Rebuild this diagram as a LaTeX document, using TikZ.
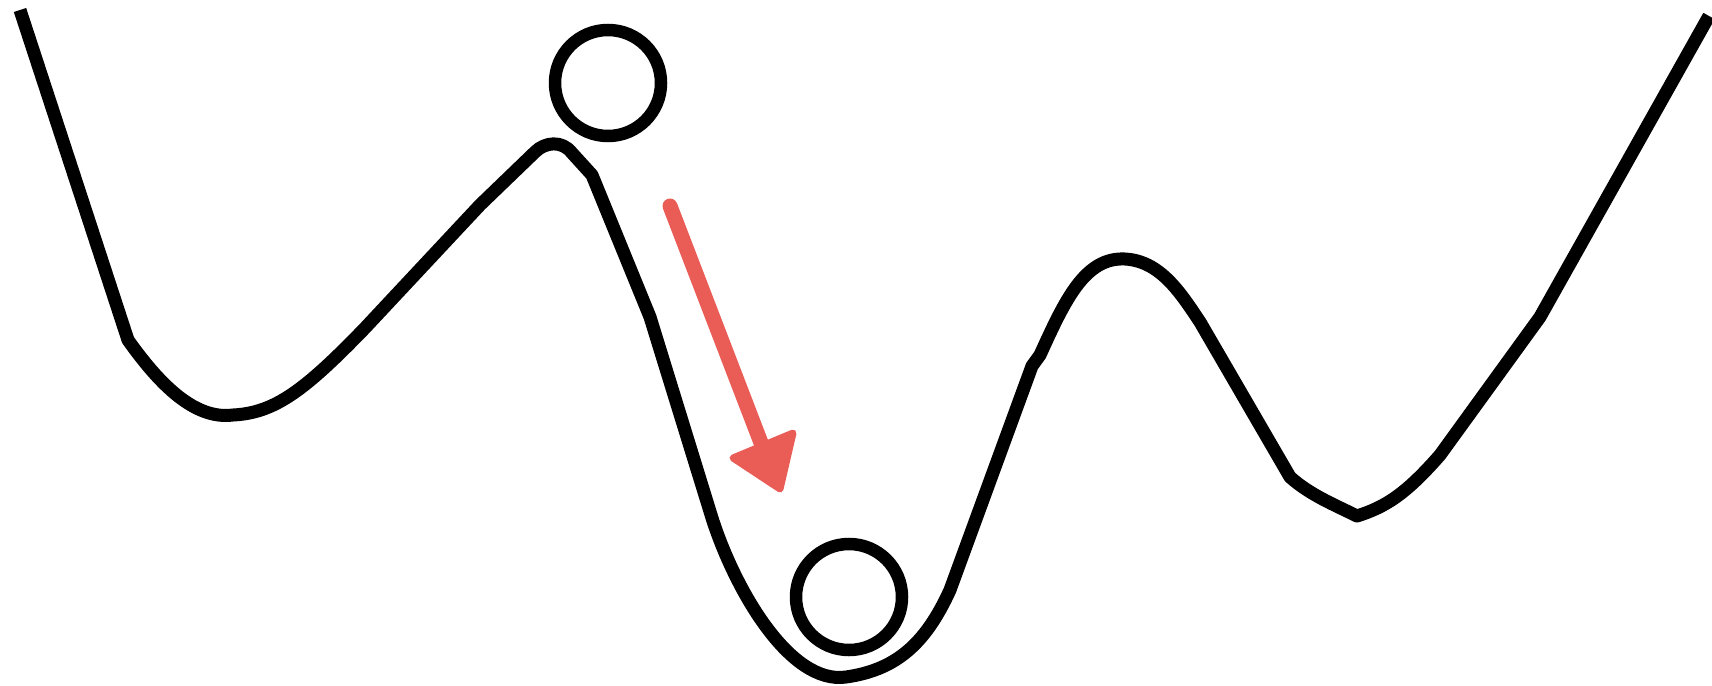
\documentclass[tikz,border=0pt]{standalone}
\begin{document}
\begin{tikzpicture}[x=1pt,y=-1pt,
  landscape/.style={line width=13pt, line join=round, line cap=butt, black},
  ball/.style={circle, draw=black, line width=12.5pt, minimum size=106pt, inner sep=0pt},
  redarrow/.style={draw=arrowred, line width=15pt, line cap=round}]
\definecolor{arrowred}{RGB}{234,92,86}
\useasboundingbox (0,0) rectangle (1712,685);
\draw[landscape] (20,10) -- (128,340)
  .. controls (160,385) and (195,420) .. (233,415)
  .. controls (275,413) and (305,390) .. (365,328)
  -- (480,205) -- (535,152)
  .. controls (545,142) and (562,140) .. (572,153)
  -- (592,175) -- (650,317) -- (712,518)
  .. controls (735,590) and (790,685) .. (846,677)
  .. controls (895,670) and (925,645) .. (950,590)
  -- (1032,366) -- (1040,355)
  .. controls (1065,300) and (1085,257) .. (1125,259)
  .. controls (1160,261) and (1180,292) .. (1200,322)
  -- (1290,477)
  .. controls (1310,495) and (1335,505) .. (1357,516)
  .. controls (1385,507) and (1405,495) .. (1440,455)
  -- (1540,317) -- (1709,16);
\node[ball] (top) at (608,83) {};
\node[ball] (bottom) at (849,597) {};
\coordinate (tail) at (670,206);
\coordinate (shaftend) at (763,448);
\coordinate (h1) at (733,458);
\coordinate (h2) at (793,433);
\coordinate (h3) at (780,489);
\draw[redarrow] (tail) -- (shaftend);
\filldraw[draw=arrowred, fill=arrowred, line width=7pt, line join=round] (h1) -- (h2) -- (h3) -- cycle;
\end{tikzpicture}
\end{document}
